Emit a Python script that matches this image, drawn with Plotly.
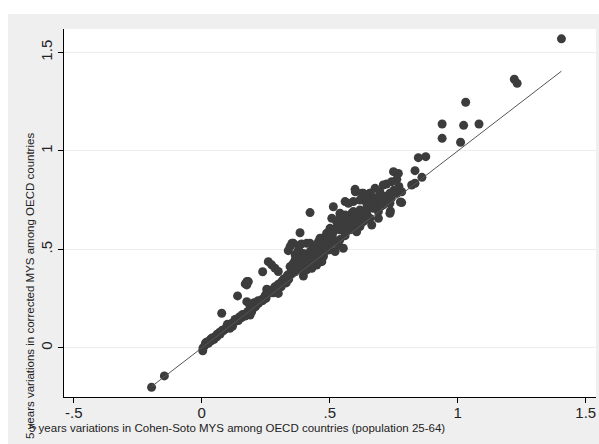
import plotly.graph_objects as go

# Data (x: Cohen-Soto MYS 5y variation, y: corrected MYS 5y variation)
x_vals = [
    1.405, 1.221, 1.232, 1.031, 0.939, 1.023, 1.083, 0.939, 1.011, 0.846, 0.875, 0.833, 0.860, 0.820, 0.833,
    -0.196, -0.146,
    0.749, 0.768, 0.762, 0.742, 0.722, 0.709, 0.599, 0.631, 0.657, 0.677, 0.696, 0.735, 0.762, 0.781,
    0.560, 0.592, 0.618, 0.644, 0.670, 0.683, 0.709, 0.735, 0.781, 0.735, 0.540, 0.566, 0.592, 0.618,
    0.644, 0.670, 0.690, 0.657, 0.631, 0.605, 0.579, 0.553, 0.618, 0.664,
    0.514, 0.508, 0.527, 0.540, 0.560, 0.573, 0.586, 0.501, 0.488, 0.514, 0.540, 0.560, 0.592, 0.605,
    0.553, 0.521, 0.534, 0.501, 0.475, 0.358, 0.384, 0.410, 0.423, 0.443, 0.456, 0.469, 0.371, 0.397,
    0.365, 0.390, 0.417, 0.436, 0.462, 0.475, 0.495, 0.449, 0.423, 0.469, 0.482, 0.573, 0.586, 0.612,
    0.638, 0.423, 0.384,
    0.352, 0.345, 0.338, 0.390, 0.423, 0.462, 0.495, 0.260, 0.273, 0.286, 0.299, 0.238, 0.176, 0.170,
    0.397, 0.176, 0.189, 0.208, 0.221, 0.234, 0.247, 0.260, 0.254, 0.273, 0.286, 0.299, 0.312, 0.325,
    0.338, 0.352, 0.365, 0.378, 0.345, 0.358, 0.371, 0.384, 0.397, 0.410, 0.423, 0.436, 0.417, 0.449,
    0.462, 0.482, 0.475, 0.397, 0.378, 0.365, 0.390, 0.410, 0.430,
    0.005, 0.013, 0.004, 0.026, 0.039, 0.048, 0.059, 0.072, 0.085, 0.095, 0.104, 0.117, 0.130, 0.143,
    0.156, 0.169, 0.189, 0.195, 0.186, 0.204, 0.221, 0.238, 0.251, 0.262, 0.277, 0.293, 0.299, 0.078,
    0.140, 0.176, 0.182,
    0.020, 0.035, 0.060, 0.080, 0.100, 0.110, 0.120, 0.150, 0.160, 0.200, 0.220, 0.280, 0.310, 0.330,
    0.340, 0.600, 0.625, 0.658, 0.690, 0.671, 0.644, 0.683, 0.690, 0.776, 0.764, 0.737,
    0.320, 0.335, 0.350, 0.360, 0.370, 0.380, 0.390, 0.400, 0.410, 0.420, 0.430, 0.440, 0.450, 0.460,
    0.470, 0.480, 0.490, 0.500, 0.510, 0.520, 0.530, 0.550, 0.570, 0.580, 0.600, 0.620, 0.640, 0.660,
    0.680, 0.700, 0.720, 0.740, 0.750, 0.770, 0.700, 0.720, 0.460, 0.500, 0.520, 0.540, 0.560, 0.580,
    0.300, 0.270, 0.250, 0.240, 0.230, 0.210, 0.200, 0.190, 0.180, 0.165, 0.140, 0.130, 0.110, 0.090,
    0.070, 0.050, 0.040, 0.030, 0.015,
]
y_vals = [
    1.569, 1.364, 1.343, 1.247, 1.137, 1.130, 1.137, 1.064, 1.044, 0.966, 0.971, 0.900, 0.866, 0.827, 0.836,
    -0.200, -0.142,
    0.895, 0.886, 0.856, 0.844, 0.832, 0.827, 0.805, 0.785, 0.785, 0.810, 0.793, 0.785, 0.785, 0.793,
    0.743, 0.743, 0.751, 0.734, 0.760, 0.734, 0.726, 0.734, 0.738, 0.684, 0.684, 0.667, 0.692, 0.700,
    0.684, 0.709, 0.692, 0.658, 0.641, 0.650, 0.624, 0.607, 0.616, 0.624,
    0.717, 0.658, 0.641, 0.667, 0.675, 0.641, 0.633, 0.607, 0.582, 0.590, 0.599, 0.616, 0.616, 0.590,
    0.506, 0.489, 0.523, 0.548, 0.548, 0.531, 0.523, 0.531, 0.489, 0.514, 0.540, 0.557, 0.481, 0.472,
    0.447, 0.430, 0.447, 0.464, 0.481, 0.464, 0.497, 0.421, 0.413, 0.438, 0.514, 0.734, 0.684, 0.658,
    0.650, 0.687, 0.585,
    0.531, 0.514, 0.494, 0.528, 0.531, 0.557, 0.574, 0.438, 0.422, 0.405, 0.388, 0.387, 0.337, 0.325,
    0.365, 0.235, 0.218, 0.210, 0.227, 0.244, 0.261, 0.278, 0.298, 0.294, 0.311, 0.323, 0.337, 0.349,
    0.362, 0.376, 0.387, 0.404, 0.413, 0.430, 0.447, 0.463, 0.480, 0.463, 0.480, 0.447, 0.430, 0.463,
    0.489, 0.514, 0.472, 0.430, 0.497, 0.472, 0.396, 0.396, 0.404,
    0.000, 0.015, -0.014, 0.024, 0.037, 0.044, 0.057, 0.071, 0.088, 0.100, 0.108, 0.125, 0.134, 0.139,
    0.154, 0.162, 0.167, 0.184, 0.223, 0.230, 0.227, 0.240, 0.252, 0.286, 0.294, 0.297, 0.277, 0.176,
    0.264, 0.320, 0.337,
    0.030, 0.045, 0.070, 0.090, 0.120, 0.100, 0.110, 0.160, 0.170, 0.220, 0.240, 0.280, 0.310, 0.330,
    0.350, 0.793, 0.785, 0.785, 0.768, 0.760, 0.760, 0.717, 0.658, 0.741, 0.788, 0.695,
    0.350, 0.370, 0.390, 0.400, 0.420, 0.430, 0.450, 0.460, 0.440, 0.460, 0.490, 0.480, 0.500, 0.520,
    0.500, 0.530, 0.550, 0.560, 0.570, 0.600, 0.620, 0.630, 0.650, 0.660, 0.670, 0.680, 0.700, 0.720,
    0.750, 0.760, 0.770, 0.760, 0.800, 0.820, 0.720, 0.740, 0.470, 0.520, 0.540, 0.550, 0.570, 0.600,
    0.320, 0.280, 0.270, 0.250, 0.240, 0.210, 0.200, 0.190, 0.185, 0.170, 0.150, 0.145, 0.115, 0.095,
    0.080, 0.055, 0.050, 0.035, 0.025,
]

# 45-degree reference line over the x range of the data
line_x = [min(x_vals), max(x_vals)]
line_y = [min(x_vals), max(x_vals)]

x_ticks = [-0.5, 0, 0.5, 1, 1.5]
x_ticktext = ["-.5", "0", ".5", "1", "1.5"]
y_ticks = [0, 0.5, 1, 1.5]
y_ticktext = ["0", ".5", "1", "1.5"]

x_title = "5 years variations in Cohen-Soto MYS among OECD countries (population 25-64)"
y_title = "5 years variations in corrected MYS among OECD countries"

FONT = "Liberation Sans, Arial, sans-serif"

fig = go.Figure()
fig.add_trace(go.Scatter(
    x=x_vals, y=y_vals, mode="markers",
    marker=dict(size=9, color="#3c3c3c", line=dict(width=0)),
    hoverinfo="x+y", showlegend=False,
))
fig.add_trace(go.Scatter(
    x=line_x, y=line_y, mode="lines",
    line=dict(color="#555555", width=1),
    hoverinfo="skip", showlegend=False,
))

L, R, T, B = 64, 3, 29, 47
W, H = 599, 444
pw, ph = W - L - R, H - T - B


def px_x(p):
    return (p - L) / pw


def px_y(p):
    return (H - B - p) / ph


fig.update_layout(
    width=W, height=H,
    margin=dict(l=L, r=R, t=T, b=B, pad=0),
    paper_bgcolor="#efefef",
    plot_bgcolor="white",
    font=dict(family=FONT, color="#222222"),
    xaxis=dict(
        range=[-0.538, 1.54], tickvals=x_ticks, ticktext=x_ticktext,
        showgrid=False, zeroline=False, showline=True, linecolor="black", linewidth=1,
        ticks="outside", ticklen=5, tickcolor="black", tickwidth=1,
        tickfont=dict(size=15, family=FONT, color="#222222"), automargin=False,
        ticklabelstandoff=-3,
    ),
    yaxis=dict(
        range=[-0.249, 1.619], tickvals=y_ticks, ticktext=y_ticktext, tickangle=-90,
        showgrid=True, gridcolor="#ececec", gridwidth=1, zeroline=False,
        showline=True, linecolor="black", linewidth=1,
        ticks="outside", ticklen=5, tickcolor="black", tickwidth=1,
        tickfont=dict(size=15, family=FONT, color="#222222"), automargin=False,
    ),
    shapes=[
        dict(type="rect", xref="paper", yref="paper", x0=px_x(-5), x1=px_x(W + 5),
             y0=px_y(14), y1=px_y(-5), fillcolor="white", line=dict(width=0), layer="below"),
        dict(type="rect", xref="paper", yref="paper", x0=px_x(-5), x1=px_x(8),
             y0=px_y(H + 5), y1=px_y(-5), fillcolor="white", line=dict(width=0), layer="below"),
    ],
    annotations=[
        dict(text=x_title, xref="paper", yref="paper", x=px_x(27), y=px_y(428),
             xanchor="left", yanchor="middle", showarrow=False,
             font=dict(size=11.5, family=FONT, color="#222222")),
        dict(text=y_title, xref="paper", yref="paper", x=px_x(30), y=px_y(441),
             xanchor="center", yanchor="bottom", textangle=-90, showarrow=False,
             font=dict(size=11.5, family=FONT, color="#222222")),
    ],
)

fig.write_html(
    "out.html",
    config={"displayModeBar": False},
    post_script="document.body.style.margin='0';document.body.style.overflow='hidden';",
)
